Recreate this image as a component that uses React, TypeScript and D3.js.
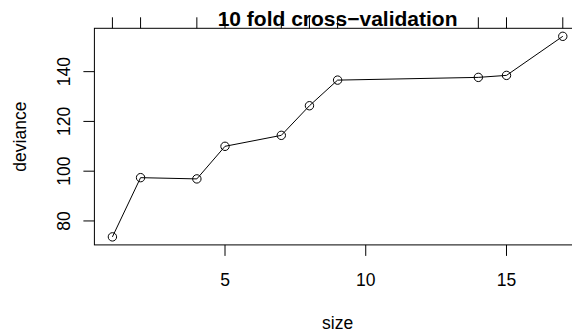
import React from "react";
import * as d3 from "d3";

const sizes = [1, 2, 4, 5, 7, 8, 9, 14, 15, 17];
const deviance = [73.6, 97.4, 96.9, 110.0, 114.4, 126.3, 136.6, 137.7, 138.5, 154.2];
const xTicks = [5, 10, 15];
const yTicks = [80, 100, 120, 140];
const title = "10 fold cross\u2212validation";
const xLabel = "size";
const yLabel = "deviance";

const W = 572;
const H = 335;
const left = 94.4, right = 580.8, top = 28.3, bottom = 244.9;
const font = "'Liberation Sans', Arial, Helvetica, sans-serif";

export default function App() {
  const xMin = d3.min(sizes)!, xMax = d3.max(sizes)!;
  const yMin = d3.min(deviance)!, yMax = d3.max(deviance)!;
  const xPad = (xMax - xMin) * 0.04, yPad = (yMax - yMin) * 0.04;
  const x = d3.scaleLinear().domain([xMin - xPad, xMax + xPad]).range([left, right]);
  const y = d3.scaleLinear().domain([yMin - yPad, yMax + yPad]).range([bottom, top]);
  const pts = sizes.map((s, i) => [s, deviance[i]] as [number, number]);
  const line = d3.line<[number, number]>().x(d => x(d[0])).y(d => y(d[1]));
  const tickLen = 11;
  const cy = (top + bottom) / 2;
  const cx = (left + right) / 2;
  return (
    <svg width={W} height={H} style={{ position: "absolute", left: 0, top: 0, background: "#fff" }}>
      <rect x={0} y={0} width={W} height={H} fill="#fff" />
      <path d={line(pts)!} fill="none" stroke="#000" strokeWidth={1} />
      {pts.map((p, i) => (
        <circle key={i} cx={x(p[0])} cy={y(p[1])} r={4.2} fill="none" stroke="#000" strokeWidth={1} />
      ))}
      <rect x={left} y={top} width={right - left} height={bottom - top} fill="none" stroke="#000" strokeWidth={1} />
      {/* bottom axis */}
      {xTicks.map(t => (
        <g key={t}>
          <line x1={x(t)} x2={x(t)} y1={bottom} y2={bottom + tickLen} stroke="#000" />
          <text x={x(t)} y={285.7} textAnchor="middle" fontFamily={font} fontSize={17.5}>{t}</text>
        </g>
      ))}
      {/* top axis */}
      {sizes.map(t => (
        <line key={t} x1={x(t)} x2={x(t)} y1={top} y2={top - tickLen} stroke="#000" />
      ))}
      {/* left axis */}
      {yTicks.map(t => (
        <g key={t}>
          <line x1={left - tickLen} x2={left} y1={y(t)} y2={y(t)} stroke="#000" />
          <text transform={`translate(70,${y(t)}) rotate(-90)`} textAnchor="middle" fontFamily={font} fontSize={17.5}>{t}</text>
        </g>
      ))}
      <text x={cx} y={26} textAnchor="middle" fontFamily={font} fontSize={21} fontWeight="bold">{title}</text>
      <text x={cx} y={329} textAnchor="middle" fontFamily={font} fontSize={17.5}>{xLabel}</text>
      <text transform={`translate(26,${cy}) rotate(-90)`} textAnchor="middle" fontFamily={font} fontSize={17.5}>{yLabel}</text>
    </svg>
  );
}
